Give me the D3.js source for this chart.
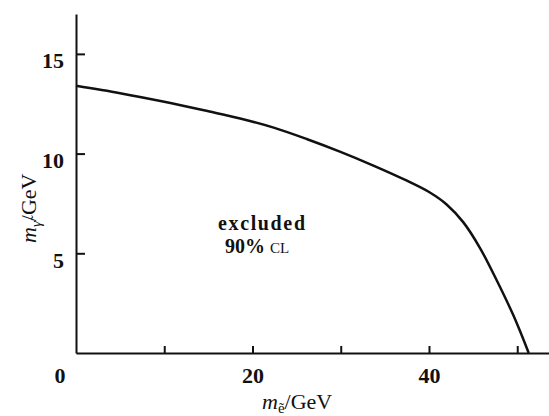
<!DOCTYPE html>
<html>
<head>
  <style type="text/css">
    body { margin: 0; background: #fff; }
    .axis path, .axis line { stroke: #111; stroke-width: 2px; }
    .axis text { font-family: "Liberation Serif", serif; font-weight: bold; font-size: 22px; fill: #111; }
    .lbl { font-family: "Liberation Serif", serif; fill: #111; }
  </style>
</head>
<body>
<svg></svg>
<script src="https://d3js.org/d3.v7.min.js"></script>
<script>
    var width = 549;
    var height = 416;

    // boundary of the excluded region (selectron mass vs photino mass, GeV)
    var mSelectron = [0, 5, 10, 15, 18.6, 22.4, 26.2, 29.9, 33.7, 37.5, 40.1, 42.0, 43.9, 45.8, 47.7, 49.6, 51.3];
    var mPhotino = [13.40, 13.03, 12.60, 12.12, 11.76, 11.30, 10.72, 10.10, 9.40, 8.64, 8.05, 7.45, 6.55, 5.25, 3.62, 1.85, 0];
    var xTicks = [10, 20, 30, 40, 50];
    var xTickLabels = {20: '20', 40: '40'};
    var yTicks = [5, 10, 15];

    var svg = d3.select('svg')
      .attr('width', width)
      .attr('height', height);

    var x = d3.scaleLinear().domain([0, 53.6]).range([76, 549]);
    var y = d3.scaleLinear().domain([0, 17]).range([353, 14]);

    svg.append('g')
      .attr('class', 'axis')
      .attr('transform', 'translate(0,' + y(0) + ')')
      .call(d3.axisBottom(x)
        .tickValues(xTicks)
        .tickSizeInner(-7)
        .tickSizeOuter(0)
        .tickPadding(14)
        .tickFormat(function(d) { return xTickLabels[d] || ''; }));

    var yAxis = svg.append('g')
      .attr('class', 'axis')
      .attr('transform', 'translate(' + x(0) + ',0)')
      .call(d3.axisLeft(y)
        .tickValues(yTicks)
        .tickSizeInner(-9)
        .tickSizeOuter(0)
        .tickPadding(12));
    yAxis.selectAll('.tick text').attr('dy', '0.64em');

    // shared origin label
    svg.append('text')
      .attr('class', 'lbl')
      .attr('x', x(0) - 16)
      .attr('y', y(0) + 30)
      .attr('text-anchor', 'middle')
      .style('font-weight', 'bold')
      .style('font-size', '22px')
      .text('0');

    var line = d3.line()
      .x(function(d, i) { return x(mSelectron[i]); })
      .y(function(d, i) { return y(mPhotino[i]); })
      .curve(d3.curveCatmullRom.alpha(0.5));

    svg.append('path')
      .datum(mSelectron)
      .attr('d', line)
      .attr('fill', 'none')
      .attr('stroke', '#111')
      .attr('stroke-width', 2.5);

    // region annotation
    svg.append('text')
      .attr('class', 'lbl')
      .attr('x', 218)
      .attr('y', 230)
      .attr('textLength', 87)
      .attr('lengthAdjust', 'spacing')
      .style('font-size', '20px')
      .style('font-weight', 'bold')
      .text('excluded');
    var cl = svg.append('text')
      .attr('class', 'lbl')
      .attr('x', 225)
      .attr('y', 253)
      .style('font-size', '20px')
      .style('font-weight', 'bold');
    cl.append('tspan').text('90% ');
    cl.append('tspan').style('font-size', '15px').style('font-weight', 'normal').text('CL');

    // axis titles
    var xt = svg.append('text')
      .attr('class', 'lbl')
      .attr('x', 262)
      .attr('y', 409)
      .style('font-size', '22px');
    xt.append('tspan').style('font-style', 'italic').text('m');
    xt.append('tspan').attr('dy', 4).style('font-size', '15px').text('ẽ');
    xt.append('tspan').attr('dy', -4).text('/GeV');

    var yt = svg.append('text')
      .attr('class', 'lbl')
      .attr('transform', 'translate(36,243) rotate(-90)')
      .style('font-size', '22px');
    yt.append('tspan').style('font-style', 'italic').text('m');
    yt.append('tspan').attr('dy', 5).style('font-size', '15px').style('font-style', 'italic').text('γ̃');
    yt.append('tspan').attr('dy', -5).text('/GeV');
</script>
</body>
</html>
